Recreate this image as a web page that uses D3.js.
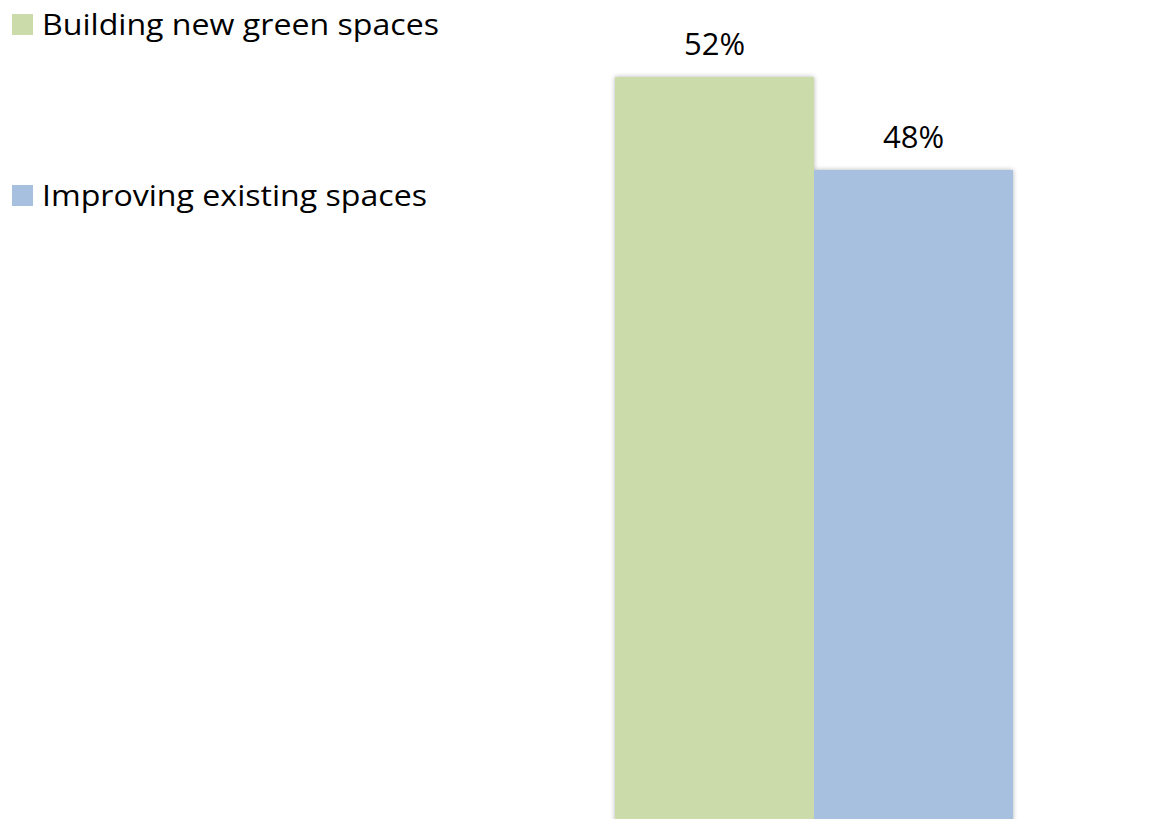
<!DOCTYPE html>
<html><head><meta charset="utf-8">
<script src="https://cdn.jsdelivr.net/npm/d3@7"></script>
<style>html,body{margin:0;padding:0;background:#fff;overflow:hidden}</style>
</head><body>
<script>
const categories = ["Building new green spaces", "Improving existing spaces"];
const values = [52, 48];
const colors = ["#ccdbaa", "#a7c0df"];
const labels = ["52%", "48%"];

const W = 1150, H = 819;
const svg = d3.select("body").append("svg").attr("width", W).attr("height", H);
const defs = svg.append("defs");
const f = defs.append("filter").attr("id","sh").attr("x","-10%").attr("y","-10%").attr("width","120%").attr("height","120%");
f.append("feGaussianBlur").attr("in","SourceAlpha").attr("stdDeviation",2.5).attr("result","b");
f.append("feOffset").attr("in","b").attr("dx",0).attr("dy",0).attr("result","o");
f.append("feComponentTransfer").attr("in","o").attr("result","t").append("feFuncA").attr("type","linear").attr("slope",0.3);
const m = f.append("feMerge"); m.append("feMergeNode").attr("in","t"); m.append("feMergeNode").attr("in","SourceGraphic");

const x = d3.scaleBand().domain(categories).range([615, 1013]).padding(0);
const y = d3.scaleLinear().domain([0, 52]).range([1286, 77]);

const g = svg.append("g").attr("filter","url(#sh)");
g.selectAll("rect").data(categories).join("rect")
  .attr("x", d => x(d)).attr("width", x.bandwidth())
  .attr("y", (d,i) => y(values[i])).attr("height", (d,i) => y(0) - y(values[i]))
  .attr("fill", (d,i) => colors[i]);

svg.selectAll("text.lbl").data(categories).join("text").attr("class","lbl")
  .attr("x", d => x(d) + x.bandwidth()/2)
  .attr("y", (d,i) => y(values[i]) - 22)
  .attr("text-anchor","middle")
  .attr("font-family","'Open Sans', sans-serif").attr("font-size",31)
  .attr("fill","#000").text((d,i) => labels[i]);

const leg = svg.append("g");
const legY = [14, 185];
const legW = [397, 385];
categories.forEach((c,i) => {
  leg.append("rect").attr("x",12).attr("y",legY[i]).attr("width",21).attr("height",21).attr("fill",colors[i]);
  leg.append("text").attr("x",42).attr("y",legY[i]+21)
    .attr("font-family","'Open Sans', sans-serif").attr("font-size",30)
    .attr("textLength", legW[i]).attr("lengthAdjust","spacingAndGlyphs")
    .attr("fill","#000").text(c);
});
</script>
</body></html>
